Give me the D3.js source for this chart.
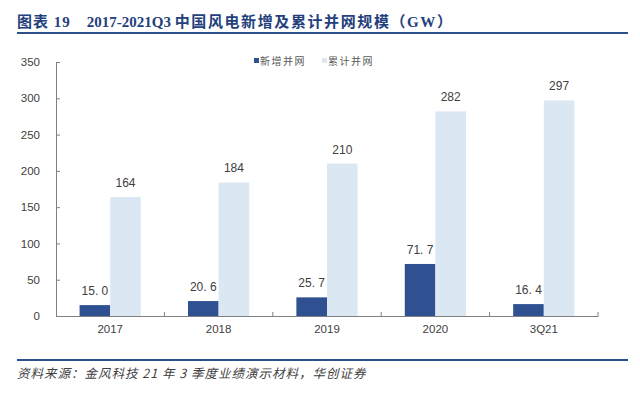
<!DOCTYPE html>
<html>
<head>
<meta charset="utf-8">
<script src="https://cdn.jsdelivr.net/npm/d3@7"></script>
<style>
  html, body { margin: 0; padding: 0; background: #fff; }
  svg { display: block; }
</style>
</head>
<body>
<div id="chart"></div>
<script>
const categories = ['2017', '2018', '2019', '2020', '3Q21'];
const newGrid = [15.0, 20.6, 25.7, 71.7, 16.4];
const totalGrid = [164, 184, 210, 282, 297];
const seriesNames = ['新增并网', '累计并网'];
const yTicks = [0, 50, 100, 150, 200, 250, 300, 350];

const W = 640, H = 394;
const margin = { left: 56, right: 42, top: 62, bottom: 78 };
const colors = ['#2f5192', '#dce7f4'];

const svg = d3.select('#chart').append('svg').attr('width', W).attr('height', H);

// title
const title = svg.append('text')
  .attr('x', 17).attr('y', 27)
  .attr('fill', '#23407c')
  .attr('font-size', 15).attr('font-weight', 700)
  .attr('font-family', '"Liberation Serif", "Noto Sans CJK SC", serif');
title.append('tspan').attr('letter-spacing', 1).text('图表\u00a019');
title.append('tspan').attr('dx', 16).text('2017-2021Q3 ');
title.append('tspan').attr('letter-spacing', 1.6).text('中国风电新增及累计并网规模（GW）');

svg.append('line').attr('x1', 17).attr('x2', 628).attr('y1', 33).attr('y2', 33)
  .attr('stroke', '#2d4f8e').attr('stroke-width', 2);
svg.append('line').attr('x1', 17).attr('x2', 628).attr('y1', 360).attr('y2', 360)
  .attr('stroke', '#2d4f8e').attr('stroke-width', 2);

svg.append('text')
  .attr('x', 17).attr('y', 378)
  .attr('fill', '#404040')
  .attr('font-size', 12.5).attr('font-style', 'italic')
  .attr('letter-spacing', 1)
  .attr('font-family', '"Noto Sans CJK SC", sans-serif')
  .text('资料来源：金风科技 21 年 3 季度业绩演示材料，华创证券');

const x = d3.scaleBand().domain(categories)
  .range([margin.left, W - margin.right]).paddingInner(0).paddingOuter(0);
const sub = d3.scaleBand().domain([0, 1]).range([0, x.bandwidth()]).paddingOuter(0.77);
const y = d3.scaleLinear().domain([0, 350]).range([H - margin.bottom, margin.top]);

// bars
const groups = svg.append('g').selectAll('g')
  .data(categories)
  .join('g')
  .attr('transform', d => `translate(${x(d)},0)`);

[newGrid, totalGrid].forEach((vals, si) => {
  groups.append('rect')
    .attr('x', sub(si))
    .attr('width', sub.bandwidth())
    .attr('y', (d, i) => y(vals[i]))
    .attr('height', (d, i) => y(0) - y(vals[i]))
    .attr('fill', colors[si]);

  groups.append('text')
    .attr('x', sub(si) + sub.bandwidth() / 2)
    .attr('y', (d, i) => y(vals[i]) - 10)
    .attr('text-anchor', 'middle')
    .attr('fill', '#404040')
    .attr('font-size', 12)
    .attr('font-family', '"Liberation Sans", Arial, sans-serif')
    .text((d, i) => si === 0 ? vals[i].toFixed(1).replace('.', '. ') : vals[i]);
});

// y axis
const yAxis = svg.append('g')
  .attr('transform', `translate(${margin.left},0)`)
  .call(d3.axisLeft(y).tickValues(yTicks).tickSizeInner(-4).tickSizeOuter(0).tickPadding(16));
yAxis.select('.domain').attr('stroke', '#808080');
yAxis.selectAll('.tick line').attr('stroke', '#808080');
yAxis.selectAll('.tick text').attr('fill', '#404040').attr('font-size', 11.5)
  .attr('font-family', '"Liberation Sans", Arial, sans-serif');

// x axis
const xAxis = svg.append('g')
  .attr('transform', `translate(0,${y(0)})`)
  .call(d3.axisBottom(x).tickSize(0).tickPadding(9));
xAxis.select('.domain').attr('stroke', '#808080');
xAxis.selectAll('.tick text').attr('fill', '#404040').attr('font-size', 11.5)
  .attr('font-family', '"Liberation Sans", Arial, sans-serif');
xAxis.selectAll('.sep')
  .data(categories.slice(1).concat(['end']))
  .join('line')
  .attr('class', 'sep')
  .attr('x1', (d, i) => i < categories.length - 1 ? x(d) : x.range()[1])
  .attr('x2', (d, i) => i < categories.length - 1 ? x(d) : x.range()[1])
  .attr('y1', 0).attr('y2', -4)
  .attr('stroke', '#808080');

// legend
const legend = svg.append('g').attr('transform', 'translate(254,61)');
const lx = [0, 68];
seriesNames.forEach((name, i) => {
  legend.append('rect').attr('x', lx[i]).attr('y', -3).attr('width', 5).attr('height', 5)
    .attr('fill', colors[i]);
  legend.append('text').attr('x', lx[i] + 6).attr('y', 3.5)
    .attr('fill', '#595959').attr('font-size', 10)
    .attr('font-family', '"Noto Sans CJK SC", sans-serif')
    .attr('letter-spacing', 1.5)
    .text(name);
});
</script>
</body>
</html>
